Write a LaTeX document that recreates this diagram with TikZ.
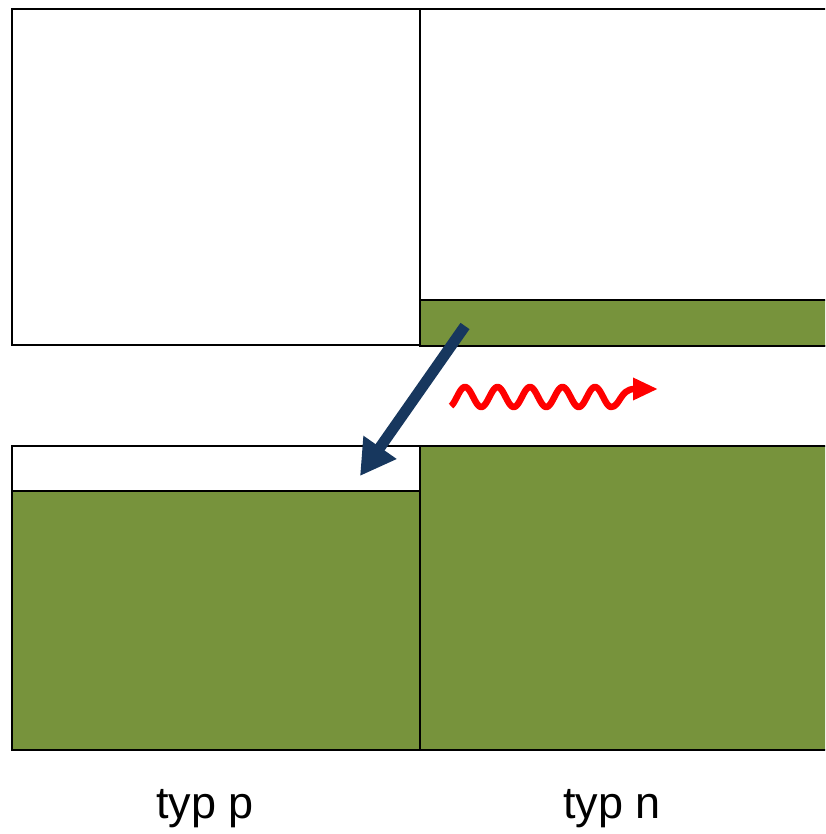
\documentclass[tikz,border=0pt]{standalone}
\usepackage{fontspec}
\setmainfont{Liberation Sans}
\usetikzlibrary{arrows.meta}
\definecolor{olive}{HTML}{77933C}
\definecolor{navy}{HTML}{17375E}
\tikzset{
  box/.style={draw=black, line width=1.5pt},
  band/.style={fill=olive, draw=black, line width=1.5pt},
  lbl/.style={font=\fontsize{45}{54}\selectfont, anchor=base},
  wave/.style={red, line width=6.5pt, line join=round},
}
\begin{document}
\begin{tikzpicture}[x=1pt,y=-1pt]
\useasboundingbox (0,0) rectangle (825,834);
\clip (0,0) rectangle (825,834);
% top row
\draw[box] (12,9) rectangle (420,345);
\draw[box] (420,9) rectangle (830,346);
\draw[band] (420,300) rectangle (830,346);
% bottom row
\draw[band] (12,491) rectangle (420,750);
\draw[box] (12,446) rectangle (420,491);
\draw[band] (420,446) rectangle (830,750);
% blue arrow
\coordinate (bs) at (465,326);
\coordinate (be) at (360,476);
\draw[navy, line width=11pt, -{Triangle[length=35pt,width=38pt]}] (bs) -- (be);
% red wavy arrow
\coordinate (we) at (658,389);
\draw[wave, -{Triangle[length=25pt,width=21pt]}] plot[domain=451:611, samples=200] (\x, {397 - 10*cos((\x-465)/32.5*360)}) .. controls (620,407) and (620,389) .. (we);
% labels
\node[lbl] (lp) at (205,818) {typ p};
\node[lbl] (ln) at (612,818) {typ n};
\end{tikzpicture}
\end{document}
